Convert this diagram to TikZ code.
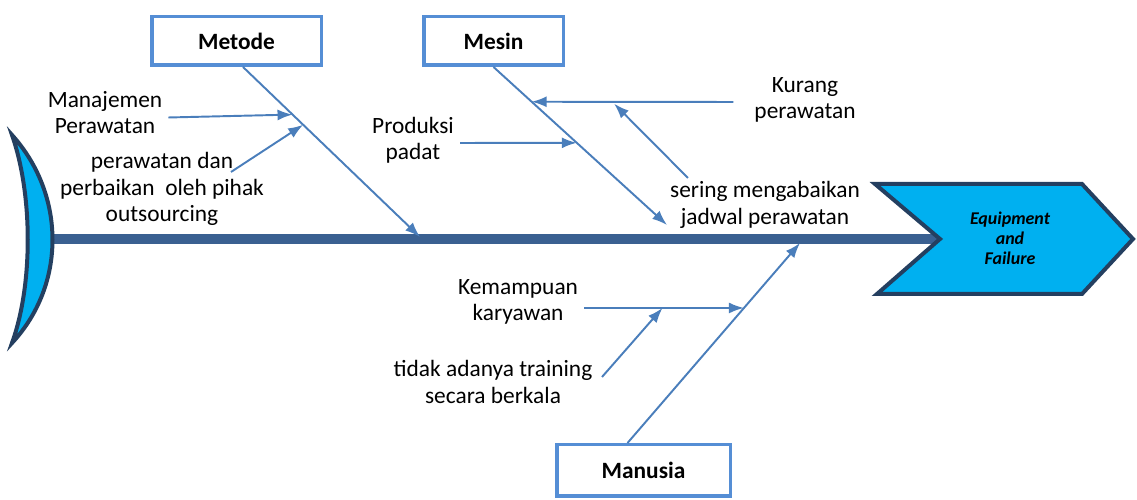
\documentclass[tikz,border=0pt]{standalone}
\usepackage{fontspec}
\setmainfont{Carlito}
\usetikzlibrary{arrows,arrows.meta,shapes}
\definecolor{boxblue}{RGB}{85,142,213}
\definecolor{boneblue}{RGB}{74,126,187}
\definecolor{spineblue}{RGB}{58,96,145}
\definecolor{fishcyan}{RGB}{0,176,240}
\definecolor{fishnavy}{RGB}{36,63,96}
\tikzstyle{category}=[draw=boxblue,line width=0.07cm,fill=white,minimum width=3.39cm,minimum height=0.97cm,font=\fontsize{13.3}{15}\selectfont\bfseries]
\tikzstyle{cause}=[align=center,font=\fontsize{13.3}{15}\selectfont]
\tikzstyle{effect}=[align=center,font=\fontsize{10.2}{11.3}\selectfont\bfseries\itshape]
\tikzstyle{fishpart}=[draw=fishnavy,fill=fishcyan,line width=0.08cm,line join=miter]
\tikzstyle{spine}=[draw=spineblue,line width=0.19cm]
\tikzstyle{bonearc}=[->,>={Latex[length=0.3cm,width=0.22cm]},draw=boneblue,fill=boneblue,line width=1.1pt]

\begin{document}
\begin{tikzpicture}
\useasboundingbox (0cm,0cm) rectangle (22.74cm,10cm);

\coordinate (TailEnd) at (1cm,5.22cm);
\coordinate (HeadNotch) at (18.8cm,5.22cm);
\draw[spine] (TailEnd) -- (HeadNotch);

\draw[fishpart] (0.24cm,7.3cm) .. controls (1.32cm,6.1cm) and (1.32cm,4.3cm) .. (0.24cm,3.14cm) .. controls (0.66cm,4.3cm) and (0.66cm,6.1cm) .. cycle;
\draw[fishpart] (17.5cm,6.32cm) -- (21.64cm,6.32cm) -- (22.66cm,5.22cm) -- (21.64cm,4.12cm) -- (17.54cm,4.12cm) -- (HeadNotch) -- cycle;
\node[effect] (Effect) at (20.2cm,5.24cm) {Equipment\\and\\Failure};

\node[category] (Metode) at (4.73cm,9.18cm) {Metode};
\node[category,minimum width=2.79cm] (Mesin) at (9.87cm,9.18cm) {Mesin};
\node[category,minimum width=3.47cm,minimum height=1.03cm] (Manusia) at (12.87cm,0.59cm) {Manusia};

\node[cause] (Manajemen) at (2.1cm,7.75cm) {Manajemen\\Perawatan};
\node[cause] (Outsourcing) at (3.24cm,6.22cm) {perawatan dan\\perbaikan~ oleh pihak\\outsourcing};
\node[cause] (Produksi) at (8.26cm,7.2cm) {Produksi\\padat};
\node[cause] (Kurang) at (16.1cm,8cm) {Kurang\\perawatan};
\node[cause] (Sering) at (15.3cm,5.9cm) {sering mengabaikan\\jadwal perawatan};
\node[cause] (Kemampuan) at (10.36cm,3.96cm) {Kemampuan\\karyawan};
\node[cause] (Training) at (9.86cm,2.36cm) {tidak adanya training\\secara berkala};

\coordinate[shift={(0.13cm,0cm)}] (MetodeFoot) at (Metode.south);
\coordinate (MetodeTip) at (8.4cm,5.26cm);
\coordinate (MesinTip) at (13.34cm,5.5cm);
\coordinate[shift={(-0.32cm,0cm)}] (ManusiaFoot) at (Manusia.north);
\coordinate (ManusiaTip) at (16cm,5.14cm);

\draw[bonearc] (MetodeFoot) -- (MetodeTip);
\draw[bonearc] (Mesin.south) -- (MesinTip);
\draw[bonearc] (ManusiaFoot) -- (ManusiaTip);

\path (MetodeFoot) -- (MetodeTip) coordinate[pos=0.28] (MetodeA) coordinate[pos=0.34] (MetodeB);
\path (Mesin.south) -- (MesinTip) coordinate[pos=0.22] (MesinA) coordinate[pos=0.48] (MesinB);
\path (ManusiaFoot) -- (ManusiaTip) coordinate[pos=0.675] (ManusiaA);

\coordinate (OutsourcingStart) at (4.62cm,6.56cm);
\coordinate (SeringStart) at (13.76cm,6.44cm);
\coordinate (TrainingStart) at (12.04cm,2.46cm);
\coordinate[shift={(-0.3cm,-0.04cm)}] (KurangStart) at (Kurang.west);
\coordinate[shift={(0cm,-0.12cm)}] (KemampuanStart) at (Kemampuan.east);
\path (KurangStart) -- (MesinA) coordinate[pos=0.6] (KurangA);
\path (KemampuanStart) -- (ManusiaA) coordinate[pos=0.49] (KemampuanA);

\draw[bonearc] ([yshift=-0.1cm]Manajemen.east) -- (MetodeA);
\draw[bonearc] (OutsourcingStart) -- (MetodeB);
\draw[bonearc] ([yshift=-0.06cm]Produksi.east) -- (MesinB);
\draw[bonearc] (KurangStart) -- (MesinA);
\draw[bonearc,shorten >=1.5pt] (SeringStart) -- (KurangA);
\draw[bonearc] (KemampuanStart) -- (ManusiaA);
\draw[bonearc] (TrainingStart) -- (KemampuanA);

\end{tikzpicture}
\end{document}
